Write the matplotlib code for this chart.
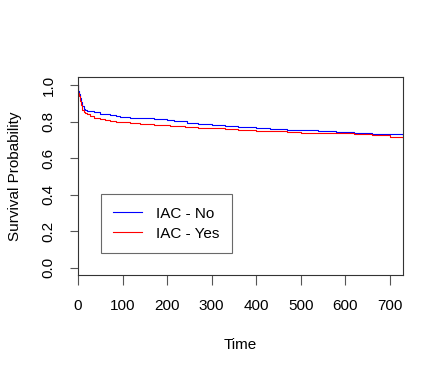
import matplotlib
matplotlib.use("Agg")
import matplotlib.pyplot as plt

# Kaplan-Meier estimates
time_no = [0, 1, 2, 4, 6, 8, 10, 13, 16, 20, 26, 35, 49, 60, 71, 85, 95, 116,
           140, 170, 200, 215, 245, 270, 300, 330, 360, 400, 432, 470, 500,
           540, 580, 620, 660, 700, 730]
surv_no = [1.0, 0.97, 0.95, 0.93, 0.91, 0.895, 0.885, 0.872, 0.865, 0.86, 0.857,
           0.851, 0.845, 0.84, 0.837, 0.831, 0.827, 0.823, 0.818, 0.813, 0.81,
           0.805, 0.795, 0.79, 0.784, 0.778, 0.773, 0.768, 0.76, 0.757, 0.754,
           0.748, 0.743, 0.738, 0.735, 0.732, 0.73]

time_yes = [0, 1, 2, 4, 6, 8, 10, 13, 16, 20, 26, 35, 49, 60, 71, 85, 95, 116,
            140, 170, 207, 240, 270, 300, 330, 360, 400, 432, 470, 500, 540,
            580, 620, 660, 700, 730]
surv_yes = [1.0, 0.96, 0.94, 0.912, 0.89, 0.875, 0.865, 0.855, 0.848, 0.84, 0.83,
            0.822, 0.815, 0.81, 0.806, 0.8, 0.796, 0.794, 0.79, 0.784, 0.778,
            0.772, 0.768, 0.764, 0.76, 0.756, 0.752, 0.747, 0.744, 0.741, 0.739,
            0.736, 0.731, 0.725, 0.718, 0.71]

labels = ["IAC - No", "IAC - Yes"]
xticks = [0, 100, 200, 300, 400, 500, 600, 700]
yticks = [0.0, 0.2, 0.4, 0.6, 0.8, 1.0]

plt.rcParams['font.family'] = ['Liberation Sans', 'DejaVu Sans']
plt.rcParams['font.size'] = 11

fig = plt.figure(figsize=(4.43, 3.74), dpi=100)
ax = fig.add_axes([0.176, 0.2647, 0.734, 0.5293])

ax.plot(time_no, surv_no, color='blue', lw=0.8, drawstyle='steps-post', label=labels[0])
ax.plot(time_yes, surv_yes, color='red', lw=0.8, drawstyle='steps-post', label=labels[1])

ax.set_xlim(0, 730)
ax.set_ylim(-0.04, 1.045)
ax.set_xticks(xticks)
ax.set_yticks(yticks)
ax.set_yticklabels([f"{v:.1f}" for v in yticks], rotation=90, va='center')
ax.tick_params(axis='x', direction='out', length=7, width=0.8, color='#555555', pad=10)
ax.tick_params(axis='y', direction='out', length=6, width=0.8, color='#555555', pad=10)
for s in ax.spines.values():
    s.set_linewidth(0.8)
    s.set_color('#333333')

ax.set_xlabel("Time", labelpad=18)
ax.set_ylabel("Survival Probability", labelpad=14)

leg = ax.legend(loc='lower left', bbox_to_anchor=(0.071, 0.111), borderaxespad=0,
                frameon=True, fancybox=False, edgecolor='#444444', handlelength=1.9,
                handletextpad=0.9, borderpad=0.8, labelspacing=0.4, fontsize=11)
leg.get_frame().set_linewidth(0.8)

fig.savefig("out.png", dpi=100)
